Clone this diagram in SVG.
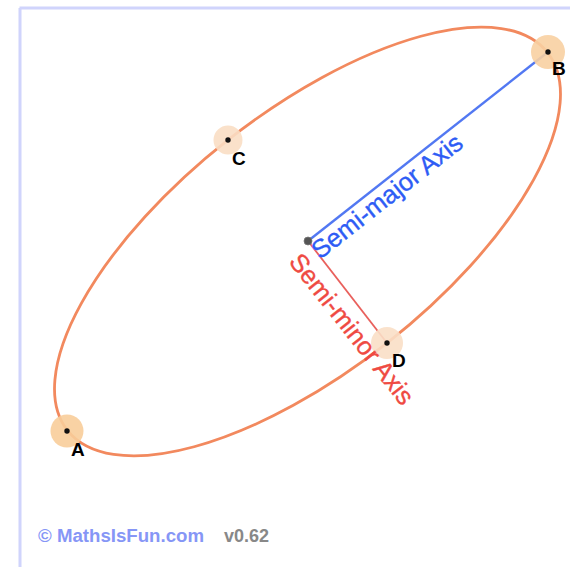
<svg xmlns="http://www.w3.org/2000/svg" width="570" height="567" viewBox="0 0 570 567">
<style>
.lbl{font-family:"Liberation Sans",Arial,sans-serif;font-size:19px;font-weight:bold;fill:#000}
.ax{font-family:"Liberation Sans",Arial,sans-serif;font-size:25.5px;stroke-width:0.35}
.dot{fill:#111}
</style>
<rect width="570" height="567" fill="#fff"/>
<g id="frame" stroke="#d0d4fc" stroke-width="3" fill="none">
<line x1="19.5" y1="8" x2="570" y2="8"/>
<line x1="20" y1="8" x2="20" y2="567"/>
</g>
<g id="connectors">
<ellipse cx="307.5" cy="241.5" rx="305.5" ry="129" transform="rotate(-38.2 307.5 241.5)" fill="none" stroke="#f2895e" stroke-width="2.8"/>
<line x1="308" y1="241" x2="548" y2="52" stroke="#5278f2" stroke-width="2.4"/>
<line x1="308" y1="241" x2="387" y2="343" stroke="#e9605c" stroke-width="1.8"/>
</g>
<g id="A"><circle cx="67" cy="431" r="16.5" fill="#f8cd9a" opacity="0.9"/><circle class="dot" cx="67" cy="431" r="2.7"/><text class="lbl" x="71" y="456">A</text></g>
<g id="B"><circle cx="548" cy="52" r="17" fill="#f8d0a2" opacity="0.9"/><circle class="dot" cx="548" cy="52" r="2.7"/><text class="lbl" x="552" y="75">B</text></g>
<g id="C"><circle cx="228" cy="140" r="14.5" fill="#fadec4" opacity="0.9"/><circle class="dot" cx="228" cy="140" r="2.7"/><text class="lbl" x="232" y="165">C</text></g>
<g id="D"><circle cx="387" cy="343" r="16" fill="#fadfc6" opacity="0.9"/><circle class="dot" cx="387" cy="343" r="2.7"/><text class="lbl" x="392" y="367">D</text></g>
<g id="center"><circle cx="308" cy="241" r="4" fill="#555" stroke="#777" stroke-width="0.8"/></g>
<g id="labels">
<text class="ax" fill="#2e5cf5" stroke="#2e5cf5" transform="translate(320,260) rotate(-38.2)">Semi-major Axis</text>
<text class="ax" fill="#ef4a42" stroke="#ef4a42" transform="translate(288,262) rotate(51.8)">Semi-minor Axis</text>
</g>
<g id="footer" font-family="'Liberation Sans',Arial,sans-serif" font-size="18" font-weight="bold">
<text x="38" y="542" fill="#8696f6" textLength="166" lengthAdjust="spacingAndGlyphs">© MathsIsFun.com</text>
<text x="224" y="542" fill="#888">v0.62</text>
</g>
</svg>
